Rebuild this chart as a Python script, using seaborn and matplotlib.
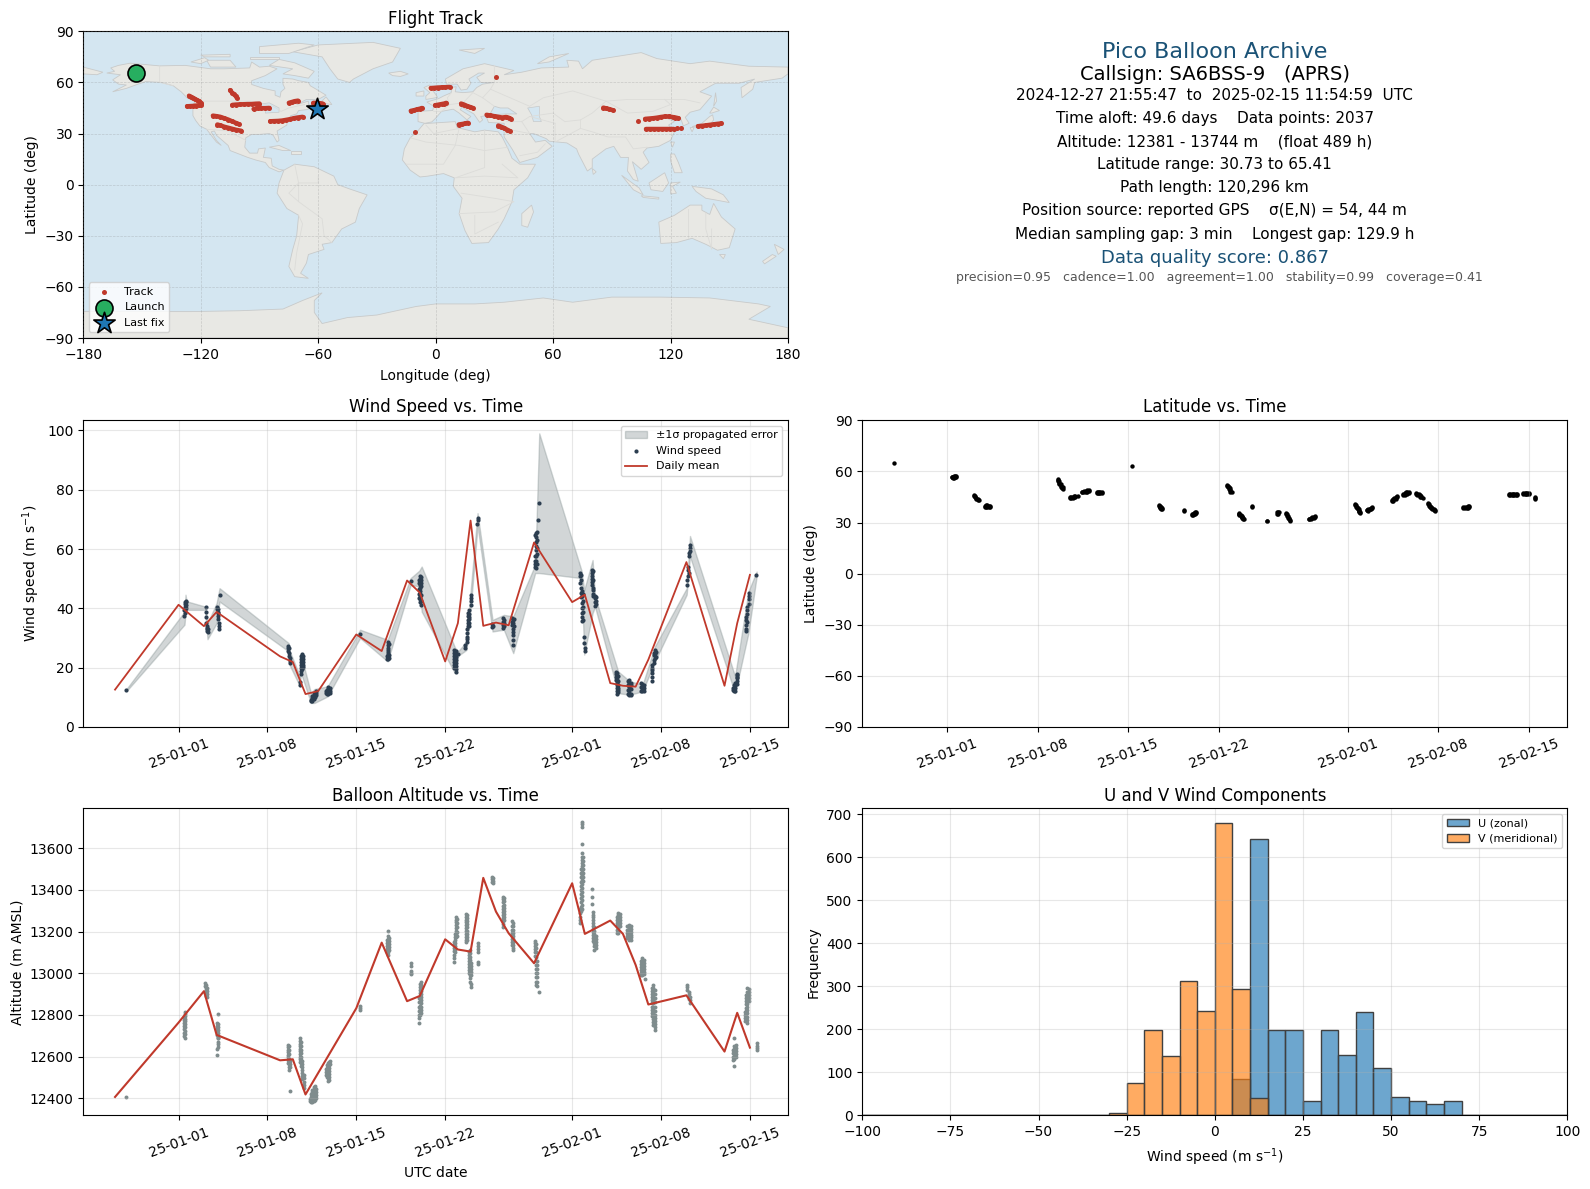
"""
plot.py - Pico balloon flight summary sheet
Values read off the reference picture by hand.
"""

import matplotlib
matplotlib.use('Agg')
import matplotlib.dates as mdates
import matplotlib.pyplot as plt
import pandas as pd
import seaborn as sns

# ─── Config ──────────────────────────────────────────────────
FIG_W, FIG_H = 1590, 1189
DAY_ZERO = pd.Timestamp('2025-01-01')

RED = '#c0392b'
NAVY = '#2c3e50'
SLATE = '#7f8c8d'
TITLE_BLUE = '#1a5276'
OCEAN = '#d4e6f1'
LAND = '#e8e8e4'
COAST = '#c8caca'

# ─── Daily means (days from 2025-01-01) ──────────────────────
wind_daily_days = [-5, 0, 2, 3, 8, 9, 10, 11, 14, 16, 18, 19, 21, 22, 23, 24, 25, 26,
                   28, 31, 32, 34, 35, 36, 37, 40, 43, 44, 45]
wind_daily_vals = [12.6, 41.2, 34.0, 38.8, 23.8, 21.9, 11.1, 12.1, 31.2, 25.6, 49.4, 45.3,
                   22.1, 35.0, 69.6, 34.1, 35.2, 34.3, 62.2, 42.1, 44.6, 14.8, 13.9, 13.6,
                   22.7, 55.6, 13.9, 35.0, 51.3]

alt_daily_days = [-5, 0, 2, 3, 8, 9, 10, 14, 16, 18, 19, 21, 22, 23, 24, 25, 26, 28,
                  31, 32, 34, 35, 36, 37, 40, 43, 44, 45]
alt_daily_vals = [12406, 12763, 12914, 12704, 12582, 12587, 12418, 12832, 13147, 12866,
                  12891, 13163, 13114, 13104, 13458, 13296, 13192, 13048, 13432, 13189,
                  13253, 13189, 13040, 12850, 12894, 12624, 12810, 12643]

# ─── Wind samples, one (day, values) entry per pass ──────────
wind_passes = [
    (-4.1, [12.5]),
    (0.47, [37.3, 39.5]), (0.53, [38.5, 39.5, 40.5, 41.5, 42.0]), (0.58, [40.0, 41.0, 42.0, 42.6]),
    (2.13, [40.4]), (2.18, [38.7]), (2.2, [37.0, 35.2]),
    (2.26, [34.0, 33.0, 32.2, 33.5]), (2.3, [33.0, 32.0]),
    (3.0, [40.6, 39.8]), (3.07, [39.8, 38.8]), (3.12, [38.4, 37.3, 36.3]), (3.17, [35.0, 34.0, 33.0]),
    (3.23, [44.4]),
    (8.65, [27.4, 26.5, 25.5]), (8.72, [26.8, 24.9, 23.8]), (8.78, [23.2, 22.2, 21.5]),
    (9.66, [24.0, 23.0, 22.0, 21.0, 20.0, 19.0, 18.0]), (9.72, [24.5, 23.5, 22.5, 21.5, 20.5, 19.5]),
    (9.8, [24.0, 23.0, 22.0, 21.0, 20.2]), (9.56, [14.3, 15.2]),
    (10.45, [8.6, 9.2]), (10.55, [8.9, 9.7, 10.4]), (10.65, [9.4, 10.2, 11.0]),
    (10.75, [10.0, 10.8, 11.6]), (10.85, [10.8, 11.6, 12.3]),
    (11.6, [11.4, 12.2]), (11.7, [11.0, 11.8, 12.6]), (11.8, [11.0, 11.9, 12.8, 13.4]), (11.9, [11.3, 12.2, 13.2]),
    (14.3, [31.3]),
    (16.42, [23.0, 24.0]), (16.5, [28.8, 27.5, 26.7, 25.9, 25.2, 24.5, 23.5, 22.9]), (16.55, [28.0, 24.2, 23.4]),
    (18.28, [49.3]),
    (18.95, [49.5, 48.4, 46.5, 45.0, 43.5]), (19.05, [51.0, 50.0, 49.0, 48.0, 47.0, 46.0, 45.0, 44.0, 43.0, 42.0]),
    (19.12, [50.5, 49.5, 48.5, 47.5, 44.5, 42.6, 41.2]),
    (21.7, [26.0, 25.0, 24.0, 23.0, 22.0, 21.0, 20.0]), (21.82, [25.5, 24.5, 23.5, 22.5, 21.5, 20.5, 19.5, 18.7]),
    (22.02, [24.5]),
    (22.55, [26.6, 27.8]), (22.68, [28.5, 29.5, 30.5, 31.8, 33.0]),
    (22.78, [35.0, 36.2, 37.3, 38.5, 34.0]), (22.9, [39.5, 38.0, 36.5, 35.0, 34.0, 37.2]), (23.0, [41.2, 42.5, 43.6, 44.6]),
    (23.5, [68.4]), (23.55, [70.4, 69.8]),
    (24.72, [34.6, 33.7]), (24.8, [34.1]),
    (25.55, [36.7, 35.5, 34.5, 33.3]), (25.65, [36.2, 35.2, 34.0]),
    (26.3, [36.7, 35.5, 34.5]), (26.36, [36.2, 35.2, 33.2, 32.0, 30.9, 29.4, 27.7]), (26.42, [36.5, 34.2]),
    (28.08, [54.1, 55.0, 55.8, 57.5, 64.8]), (28.15, [53.5, 56.0, 57.8, 59.7, 61.0, 62.5, 64.0, 65.5]),
    (28.22, [55.0, 58.2, 60.2, 63.2, 65.8]), (28.3, [69.8]), (28.4, [75.4]),
    (31.62, [51.9, 50.8, 48.5]), (31.7, [51.4, 49.5, 47.0, 45.1, 43.8]),
    (31.78, [46.0, 44.0, 41.8, 40.2, 38.4, 37.0, 35.6]), (31.85, [45.0, 42.5, 40.5, 38.9, 36.2]),
    (31.95, [30.5, 28.3]), (32.0, [25.5, 26.5]),
    (32.58, [53.0, 52.0, 51.0, 50.0, 49.0, 48.0]), (32.66, [52.5, 49.6, 47.0, 46.2, 45.0, 44.0]),
    (32.8, [44.0, 43.4, 42.2, 40.9]), (32.9, [43.8, 42.5, 41.4]),
    (34.45, [18.7, 17.9, 17.0, 16.0]), (34.55, [18.2, 17.0, 16.0, 15.0, 14.0, 13.0, 12.0, 11.2]),
    (34.65, [17.3, 15.5, 14.3, 13.2, 12.4, 11.7]),
    (35.4, [15.4, 14.0, 12.5, 11.2]), (35.5, [15.8, 14.7, 13.6, 12.5, 11.5, 10.9]), (35.62, [15.0, 14.0, 12.8, 11.2, 10.9]),
    (36.4, [14.8, 13.5, 12.2]), (36.5, [14.5, 13.2, 12.0]), (36.62, [14.2, 13.0, 12.0]),
    (37.25, [15.4, 17.0]), (37.32, [19.3, 18.2, 21.0, 20.0]), (37.42, [22.7, 24.2, 25.0, 21.6]), (37.52, [26.0, 24.6, 23.2]), (37.6, [25.2, 23.6]),
    (40.05, [47.9, 49.5]), (40.12, [51.0, 53.0, 54.0]), (40.22, [52.0, 57.5, 58.6]), (40.3, [59.5, 60.5, 61.4]),
    (43.65, [13.0, 12.4]), (43.75, [14.0, 13.0, 12.2]), (43.85, [15.0, 14.0, 13.0, 12.0]),
    (43.95, [17.6, 16.5, 15.5, 14.5]), (44.02, [17.9, 16.8]),
    (44.66, [32.2, 33.2]), (44.72, [34.5, 36.1, 37.0]), (44.8, [38.0, 39.5, 40.6, 35.5]), (44.9, [41.5, 43.0, 44.0, 45.3]),
    (45.5, [51.3]),
]

# ─── +/- 1 sigma band along the samples ──────────────────────
band_days = [-4.1, 0.47, 0.55, 0.63, 2.1, 2.28, 3.0, 3.23, 8.67, 8.77, 9.56, 9.64, 10.43, 10.7,
             11.74, 14.3, 16.47, 18.28, 18.96, 19.15, 21.76, 22.02, 22.68, 23.0, 23.55, 24.73,
             25.62, 26.36, 28.09, 28.41, 31.74, 31.95, 32.61, 32.8, 34.63, 35.55, 36.55, 37.52,
             40.02, 40.28, 43.83, 44.88, 45.53]
band_lo = [12.1, 34.5, 38.4, 39.5, 39.5, 29.6, 35.0, 42.3, 25.5, 20.7, 13.7, 18.2, 8.1, 8.1,
           10.3, 30.0, 22.1, 47.9, 47.4, 38.9, 18.2, 24.0, 26.0, 39.5, 67.8, 32.2,
           32.8, 24.9, 51.9, 51.9, 50.2, 24.4, 38.4, 40.6, 11.4, 10.9, 12.0, 22.1,
           44.6, 57.5, 11.4, 31.6, 50.7]
band_hi = [12.8, 38.9, 44.6, 42.4, 40.6, 35.0, 41.8, 46.8, 28.3, 25.5, 17.1, 24.4, 11.4, 12.8,
           13.7, 32.8, 29.4, 50.2, 52.7, 54.1, 26.9, 25.5, 28.8, 45.7, 72.1, 36.1,
           37.8, 37.3, 54.7, 99.0, 52.7, 46.2, 56.3, 44.0, 18.7, 15.4, 14.3, 27.2,
           46.8, 64.4, 17.1, 45.7, 52.4]

# ─── Altitude samples ────────────────────────────────────────
alt_passes = [
    (-4.1, [12405]),
    (0.45, [12790, 12775, 12760, 12745, 12730, 12715, 12700]),
    (0.52, [12816, 12805, 12795, 12780, 12770, 12755, 12740, 12725, 12710, 12688]),
    (2.1, [12955, 12940]),
    (2.18, [12945, 12930, 12918, 12905, 12892]), (2.26, [12930, 12915, 12902, 12888]),
    (3.07, [12803]), (3.0, [12760, 12748, 12735, 12722, 12704]), (3.08, [12755, 12742, 12728, 12712, 12700, 12688]),
    (3.14, [12700, 12688, 12672, 12660, 12648]), (3.0, [12635, 12606]),
    (8.6, [12656, 12645, 12632, 12620, 12608, 12596, 12584, 12570]),
    (8.68, [12650, 12630, 12610, 12590, 12578, 12565, 12552, 12536]),
    (8.76, [12580, 12565, 12550]), (8.76, [12434]),
    (9.58, [12688, 12675, 12662, 12650, 12638, 12625, 12612, 12600, 12588, 12575]),
    (9.66, [12670, 12650, 12630, 12615, 12600, 12585, 12570, 12555]),
    (9.76, [12580, 12565, 12550, 12535, 12520, 12505, 12490]), (9.88, [12510, 12495, 12480, 12465, 12450]),
    (10.35, [12395, 12385]), (10.45, [12420, 12408, 12396, 12384]),
    (10.55, [12440, 12428, 12416, 12404, 12392, 12384]), (10.65, [12456, 12444, 12432, 12420, 12408, 12396, 12386]),
    (10.75, [12460, 12448, 12436, 12424, 12412, 12400, 12390]), (10.85, [12445, 12430, 12415, 12402]),
    (11.6, [12540, 12525, 12510]), (11.68, [12560, 12545, 12530, 12515, 12500]),
    (11.76, [12568, 12555, 12540, 12525, 12510, 12495, 12482]),
    (11.84, [12575, 12560, 12545, 12530, 12515, 12500, 12487]), (11.92, [12580, 12565]),
    (14.28, [12843, 12832, 12825]),
    (16.4, [13160, 13145, 13130, 13115, 13100]),
    (16.48, [13205, 13178, 13165, 13152, 13140, 13128, 13115, 13102, 13088]),
    (16.56, [13170, 13155, 13140, 13125, 13110]),
    (18.3, [13048, 13035, 13010, 12995, 13003]),
    (18.97, [12880, 12860, 12840, 12820, 12800, 12785]),
    (19.05, [12950, 12935, 12920, 12905, 12890, 12875, 12860, 12845, 12830, 12815, 12800]),
    (19.13, [12960, 12945, 12930, 12915, 12900, 12885, 12870, 12855, 12840, 12825, 12810]),
    (18.97, [12760]),
    (21.66, [13150, 13135, 13120, 13105, 13090, 13075, 13056]),
    (21.76, [13190, 13175, 13160, 13145, 13130, 13115, 13100]),
    (21.86, [13272, 13258, 13244, 13230, 13216, 13202, 13188, 13174]),
    (21.94, [13260, 13240, 13220, 13200, 13180]),
    (22.64, [13285, 13272, 13258, 13244, 13230, 13216, 13202, 13188, 13174, 13160, 13152]),
    (22.74, [13280, 13265, 13250, 13235, 13220, 13205, 13190, 13175, 13160]),
    (22.84, [13104, 13090, 13075, 13060, 13045, 13030, 13015, 13000]),
    (22.92, [13110, 13095, 13080, 13065, 13050, 13035, 13020, 13005, 12990, 12975, 12960]),
    (23.0, [13050, 13035, 13020, 13005, 12990, 12950, 12936]),
    (23.55, [13144, 13130, 13118, 13104, 13056, 13045]),
    (24.66, [13464, 13452, 13440]), (24.76, [13458, 13445, 13432]),
    (25.54, [13368, 13355, 13340, 13325, 13310, 13295, 13280, 13265, 13250, 13235, 13224]),
    (25.64, [13360, 13345, 13330, 13315, 13300, 13285, 13270, 13255]),
    (26.28, [13253, 13225, 13210, 13195, 13180, 13165, 13150, 13135]),
    (26.38, [13240, 13225, 13210, 13195, 13180, 13165, 13150, 13135, 13120, 13112]),
    (28.06, [13157, 13145, 13130, 13115, 13100, 13085]),
    (28.16, [13140, 13120, 13100, 13080, 13060, 13040, 13020, 13000, 12980, 12960, 12945]),
    (28.26, [13060, 13040, 13020, 13000, 12980, 12960, 12940]),
    (28.42, [12909]),
    (31.62, [13310, 13290, 13270, 13255, 13240]),
    (31.72, [13500, 13480, 13460, 13440, 13420, 13400, 13380, 13360, 13340, 13320, 13300]),
    (31.8, [13728, 13715, 13701, 13619, 13576, 13560, 13545, 13530, 13515, 13500, 13485, 13470, 13450,
            13430, 13410, 13390, 13370, 13350, 13330, 13310]),
    (31.88, [13560, 13540, 13520, 13500, 13480, 13460, 13445]),
    (32.56, [13403, 13365, 13331]),
    (32.62, [13296, 13282, 13268, 13254, 13240, 13226, 13212, 13198, 13184, 13170, 13156]),
    (32.72, [13220, 13205, 13190, 13175, 13160, 13145, 13130, 13112]),
    (32.84, [13180, 13165, 13150, 13135, 13120]),
    (34.52, [13270, 13255, 13240, 13225, 13210, 13195]),
    (34.63, [13291, 13278, 13265, 13252, 13240, 13227, 13215, 13203, 13192]),
    (34.74, [13285, 13270, 13255, 13240, 13225]),
    (35.35, [13225, 13210, 13195, 13180, 13168]),
    (35.48, [13232, 13218, 13204, 13190, 13176, 13160]),
    (35.62, [13228, 13214, 13200, 13186, 13172, 13162]),
    (36.4, [13060, 13045, 13030, 13015, 13000, 12990]),
    (36.52, [13075, 13062, 13050, 13037, 13025, 13012, 13000, 12992]),
    (36.62, [13065, 13050, 13035, 13020, 13005, 12995]),
    (36.74, [12971]),
    (37.28, [12930, 12915, 12900, 12885, 12870, 12855, 12840, 12825, 12810, 12795]),
    (37.38, [12944, 12930, 12915, 12900, 12885, 12870, 12855, 12840, 12825, 12810, 12795, 12780, 12765, 12750]),
    (37.5, [12920, 12900, 12880, 12860, 12840, 12820, 12800, 12785, 12770, 12755, 12740, 12728]),
    (40.08, [12944, 12932, 12922]), (40.18, [12912, 12900, 12888, 12876]), (40.28, [12885, 12870, 12856]),
    (43.64, [12630, 12615, 12600, 12585]), (43.76, [12688, 12650, 12637, 12625, 12612, 12600, 12588]),
    (43.88, [12655, 12640, 12625, 12610, 12598]), (43.72, [12557]),
    (44.6, [12770, 12785, 12800, 12815]), (44.7, [12790, 12805, 12820, 12835, 12850, 12865, 12880, 12895]),
    (44.8, [12928, 12912, 12897, 12882, 12867, 12852, 12837, 12822, 12807, 12792, 12777, 12760]),
    (44.9, [12925, 12910, 12895, 12880, 12865]),
    (45.52, [12664, 12650, 12640, 12632]),
]

# ─── Latitude samples ────────────────────────────────────────
lat_passes = [
    (-4.11, [65.1]),
    (0.38, [56.6, 56.9]), (0.45, [56.4, 57.0]), (0.52, [56.2, 56.7, 57.2]), (0.6, [56.6, 57.2]), (0.66, [56.8, 57.2]),
    (2.05, [45.6, 46.0]), (2.15, [44.8, 45.4]), (2.25, [43.9, 44.6]), (2.35, [43.3, 43.9]), (2.45, [43.0]),
    (2.92, [39.4, 39.8]), (3.02, [39.2, 40.0]), (3.1, [39.2, 39.6, 40.0]), (3.2, [39.2, 39.9]), (3.28, [39.4, 39.8]),
    (8.6, [55.8, 55.0, 54.4]), (8.68, [54.2, 53.4, 52.8]), (8.78, [52.4, 51.6, 51.0]), (8.85, [51.0, 50.2]), (8.92, [50.6, 49.9]),
    (9.5, [44.4, 44.8]), (9.6, [44.3, 45.0]), (9.7, [44.6, 45.0]), (9.8, [44.8, 45.5]), (9.9, [45.2, 45.6]), (10.1, [45.6]),
    (10.4, [47.9, 48.2]), (10.55, [47.9, 48.6]), (10.7, [48.2, 48.6]), (10.82, [48.2, 48.9]), (10.95, [48.4, 48.9]),
    (11.55, [47.3, 47.7]), (11.65, [47.2, 47.8]), (11.75, [47.3, 47.7]), (11.85, [47.2, 47.8]), (11.95, [47.4, 47.8]),
    (14.3, [63.3]),
    (16.4, [40.4, 39.8]), (16.45, [39.2, 39.9]), (16.5, [39.4, 38.8]), (16.56, [38.2, 38.9]), (16.62, [38.4, 37.9]),
    (18.3, [36.8, 37.2]),
    (18.92, [34.4, 35.0]), (19.02, [34.4, 35.2]), (19.1, [34.9, 35.4]), (19.18, [35.2, 36.0]), (19.25, [35.6, 36.2]),
    (21.68, [52.2, 51.4]), (21.74, [51.6, 50.8]), (21.8, [50.6, 49.9]), (21.86, [50.0, 49.2]), (21.92, [49.0, 48.2]), (22.02, [47.8]),
    (22.55, [35.5, 34.8]), (22.62, [35.0, 34.2]), (22.7, [34.4, 33.7]), (22.78, [33.8, 33.0]), (22.85, [33.0, 32.4]),
    (22.92, [32.6, 31.9]), (23.0, [31.9]),
    (23.55, [39.2, 39.8]),
    (24.75, [30.8, 31.1]),
    (25.55, [35.2, 36.0]), (25.62, [34.8, 36.2]), (25.7, [36.4]),
    (26.22, [35.6, 34.8]), (26.3, [34.8, 34.0]), (26.38, [33.6, 32.9]), (26.46, [32.8, 32.0]), (26.55, [31.6, 30.9]),
    (28.0, [31.9, 32.2]), (28.12, [31.8, 32.6]), (28.25, [32.5, 33.0]), (28.36, [32.6, 33.4]), (28.48, [33.4, 33.7]),
    (31.6, [41.0, 40.2]), (31.66, [40.2, 39.4]), (31.72, [39.4, 38.6]), (31.78, [38.6, 37.8]), (31.85, [37.8, 37.0]),
    (31.9, [37.0, 36.2]), (31.95, [36.2, 35.4]),
    (32.5, [37.2, 37.6]), (32.6, [37.0, 37.9]), (32.7, [37.8, 38.2]), (32.8, [37.8, 38.8]), (32.9, [38.6, 39.2]),
    (34.45, [42.8, 43.4]), (34.52, [42.9, 43.8]), (34.6, [43.8, 44.2]), (34.7, [43.9, 44.9]), (34.78, [44.8, 45.4]),
    (35.3, [46.4, 46.9]), (35.4, [46.4, 47.3]), (35.5, [47.3, 47.7]), (35.6, [47.0, 48.0]), (35.72, [47.6, 48.0]),
    (36.3, [47.4, 47.0]), (36.4, [46.2, 47.0]), (36.5, [46.2, 46.6]), (36.6, [45.2, 46.2]), (36.7, [45.6, 45.0]), (36.82, [44.6]),
    (37.2, [41.2, 40.6]), (37.3, [40.6, 39.8]), (37.4, [39.8, 39.2]), (37.48, [39.2, 38.4]), (37.55, [38.6, 38.0]),
    (37.65, [38.0, 37.2]), (37.75, [37.2, 36.8]),
    (39.95, [38.5, 38.9]), (40.08, [38.4, 39.2]), (40.2, [38.8, 39.3]), (40.32, [38.8, 39.6]), (40.42, [39.4, 39.8]),
    (43.5, [46.2, 46.6]), (43.6, [45.9, 46.8]), (43.7, [46.2, 46.6]), (43.8, [45.9, 46.8]), (43.9, [46.2, 46.6]),
    (44.0, [45.9, 46.8]), (44.1, [46.2, 46.6]),
    (44.6, [46.7, 47.1]), (44.7, [46.5, 47.4]), (44.8, [46.8, 47.2]), (44.9, [46.5, 47.4]), (45.0, [46.8, 47.2]),
    (45.5, [43.9, 44.4, 44.8]),
]

# ─── U/V histogram counts (5 m/s bins) ───────────────────────
hist_edges = list(range(-100, 105, 5))
u_centers = [7.5, 12.5, 17.5, 22.5, 27.5, 32.5, 37.5, 42.5, 47.5, 52.5, 57.5, 62.5, 67.5]
u_counts = [84, 642, 198, 198, 34, 198, 140, 240, 109, 42, 33, 26, 33]
v_centers = [-27.5, -22.5, -17.5, -12.5, -7.5, -2.5, 2.5, 7.5, 12.5]
v_counts = [5, 74, 198, 137, 312, 242, 679, 293, 40]

# ─── Flight track (lon, lat), one list per pass ──────────────
track_passes = [
    [(-126, 52.2), (-125, 51.6), (-124, 51), (-123, 50.3), (-122, 49.6), (-121, 49), (-120, 48.2), (-119.7, 47.6)],
    [(-127, 46), (-125.5, 46.1), (-124, 46.2), (-122.5, 46.4), (-121, 46.6), (-119.7, 46.8)],
    [(-105, 55.4), (-104, 54), (-103, 53), (-102, 51.8), (-101.5, 50.9)],
    [(-103.9, 46.8), (-102, 47), (-100, 47.1), (-98, 47.2), (-96, 47.3), (-94, 47.3), (-92, 47.5), (-90, 47.6)],
    [(-93, 44.4), (-91, 44.8), (-89, 44.9), (-87, 44.9), (-85, 45)],
    [(-75, 48), (-73.5, 48.5), (-72, 49), (-70.3, 49.3)],
    [(-62.5, 48), (-61, 48), (-59.5, 47.8), (-57.7, 47.6)],
    [(-113.8, 40.5), (-112, 40.2), (-110, 39.8), (-108, 39), (-106, 38.2), (-104, 37.2), (-102, 36.2), (-100.5, 35.5)],
    [(-111.5, 35.3), (-110, 34.8), (-108, 34), (-106, 33.4), (-104, 32.8), (-102, 32.2), (-99.3, 31.6)],
    [(-84.5, 37.2), (-82.5, 37.3), (-80.5, 37.4), (-78.5, 37.6), (-76.5, 38), (-74.5, 38.4), (-72.5, 39), (-70.5, 39.4), (-68, 39.8)],
    [(-2.5, 56.7), (-1, 56.8), (1, 57), (3, 57.1), (5, 57.2), (7.1, 57.3)],
    [(-0.3, 46.6), (1.2, 46.9), (3, 47.3), (4.4, 47.6), (5.4, 48)],
    [(-12.7, 43.3), (-11, 43.7), (-9.5, 44.2), (-8, 44.6), (-7, 45)],
    [(-10.4, 31)],
    [(13, 47.6), (14.5, 47), (16, 46.2), (17.5, 45.6), (19, 45)],
    [(11.8, 35.3), (13.5, 35.6), (15, 35.9), (16.4, 36.3)],
    [(26, 41), (28, 40.6), (30, 40.2), (32, 39.8), (34, 39.4), (36, 39.7), (37.5, 39.2), (38.5, 38.6)],
    [(32, 34.7), (33.5, 34), (35, 33.2), (36.5, 32.3), (38, 31.4)],
    [(30.8, 63.2)],
    [(85.7, 45.2), (87, 44.8), (88.5, 44.4), (90.5, 43.7)],
    [(103.2, 37.4)],
    [(107, 38.6), (109, 38.8), (111, 39), (113, 39.3), (115, 39.7), (117, 40), (119, 40), (121, 39.7), (122.5, 39.4), (124, 39)],
    [(107.5, 32.7), (109.5, 32.7), (111.5, 32.7), (113.5, 32.7), (115.5, 32.7), (117.5, 32.7), (119.5, 32.7), (122, 32.7)],
    [(123.2, 33.3)],
    [(125.2, 33.3)],
    [(134, 34.3), (136, 34.5), (138, 34.8), (140, 35.1), (142, 35.4), (144, 35.7), (145.8, 35.9)],
]
launch_lon, launch_lat = -153.0, 65.4
last_lon, last_lat = -60.8, 44.4

# ─── Base map outlines (lon, lat), hand drawn ────────────────
land_shapes = [
    # North America
    [(-168, 65.5), (-164, 66.5), (-166, 68.5), (-162, 70), (-156, 71.3), (-141, 69.7), (-128, 70), (-115, 68),
     (-108, 68), (-95, 68.5), (-94, 72), (-90, 69), (-85, 69.5), (-81, 68), (-87, 64), (-94, 61), (-94, 58.8),
     (-88, 56.5), (-82, 55), (-82, 52.5), (-79.5, 51.3), (-79, 54.5), (-77, 56.5), (-78, 59), (-78, 62.4),
     (-73, 62), (-70, 61), (-65, 60), (-64, 58), (-61, 56), (-56, 52.5), (-60, 50), (-66, 50), (-71, 47),
     (-65, 49), (-65, 47), (-61, 46), (-66, 44), (-70, 43.5), (-71, 41.5), (-74, 40.5), (-76, 37), (-76, 35),
     (-81, 31.5), (-80, 26), (-81, 25), (-83, 29), (-85, 30), (-90, 29.5), (-94, 29.5), (-97, 27.5), (-97.5, 22),
     (-95, 18.5), (-91, 18.5), (-90.5, 21), (-87, 21.5), (-88, 16), (-84, 15.5), (-83.5, 11), (-80, 9), (-77.5, 8.5),
     (-80, 7.5), (-85, 10), (-87, 13), (-92, 14.5), (-96, 16), (-105, 20), (-106, 23), (-112, 29), (-113, 31.5),
     (-114.7, 31), (-112, 26), (-109.5, 23), (-112, 25), (-115, 29.5), (-117, 32.5), (-120.5, 34.5), (-122.5, 37.5),
     (-124, 40.5), (-124, 46), (-123, 49), (-127, 51), (-130, 54.5), (-134, 58), (-140, 60), (-148, 60.5),
     (-152, 59), (-158, 56.5), (-165, 54.5), (-158, 58.5), (-162, 59), (-165, 61.5), (-161, 64.5)],
    # Greenland and arctic islands
    [(-73, 78), (-60, 82), (-32, 83.5), (-18, 80), (-22, 72), (-32, 68), (-42, 62), (-44, 60), (-50, 62), (-54, 68), (-58, 75)],
    [(-80, 73.5), (-72, 71.5), (-62, 66.5), (-65, 62.5), (-72, 64), (-78, 65), (-73, 68), (-85, 70)],
    [(-117, 73), (-105, 73), (-102, 69), (-115, 69)],
    [(-90, 77), (-75, 77), (-62, 82), (-70, 83), (-90, 81)],
    [(-125, 72), (-118, 74.5), (-116, 73), (-120, 71)],
    [(-95, 75), (-80, 75), (-80, 74), (-95, 74)],
    [(-120, 76), (-105, 76.5), (-105, 75), (-118, 75)],
    [(-59, 48), (-56, 51.5), (-53, 47)],
    [(-85, 22), (-80, 23), (-74, 20), (-78, 20)],
    [(-74, 19.5), (-69, 19.5), (-69, 18), (-74, 18)],
    # South America
    [(-77.5, 8.5), (-72, 12), (-62, 10.5), (-52, 5), (-50, 0), (-44, -2.5), (-35, -6), (-39, -14), (-41, -22),
     (-48, -26), (-53, -34), (-58, -35), (-57, -38), (-65, -41), (-66, -46), (-69, -52), (-65, -55), (-72, -54),
     (-75, -48), (-73, -38), (-71, -30), (-70, -18), (-76, -14), (-81, -5), (-80, 1)],
    # Africa
    [(-6, 35.8), (10, 37), (11, 33.5), (20, 31), (25, 32), (32, 31), (34, 28), (37, 21), (39, 15.5), (43, 12), (51, 12),
     (47, 4), (40, -3), (39, -10), (35, -20), (32, -26), (27, -34), (18.5, -34.5), (15, -27), (12, -17), (13.5, -8),
     (9, -1), (9.5, 4), (4, 6.5), (-4, 5), (-8, 4.5), (-13, 8.5), (-17, 14.5), (-16, 21), (-13, 27.5), (-9.5, 31)],
    # Eurasia
    [(-9, 37), (-9, 43), (-1.5, 43.5), (-1, 46), (-4.5, 48.5), (1.5, 50.5), (4, 52), (8, 54), (8, 57), (10.5, 57.5),
     (10, 54.5), (14, 54), (19, 54.5), (21, 57), (24, 59), (30, 60), (23, 60), (21, 63), (25, 65.5), (22, 65.5),
     (17, 62), (18, 59.5), (16, 56), (13, 55.5), (11, 59), (5.5, 59), (5, 62), (14, 68), (25, 71), (40, 67), (35, 64.5),
     (44, 66), (54, 68.5), (68, 69), (67, 73), (73, 72.5), (75, 68), (80, 73), (105, 77.5), (113, 74), (130, 71),
     (140, 72.5), (160, 69.5), (180, 69), (180, 65), (177, 62.5), (163, 60), (162, 56), (156.5, 51), (156, 57),
     (163, 62), (155, 59.5), (143, 59.5), (135, 54.5), (141, 52), (135, 44), (130, 42.5), (127.5, 39.5), (129.5, 36),
     (126.5, 34.5), (125, 39.5), (121.5, 39), (118, 39), (122, 37), (119, 35), (122, 31), (120, 26), (114, 22.5),
     (108, 21.5), (106, 19), (109, 13), (105, 9), (100.5, 13.5), (103.5, 2), (101, 3), (98, 8), (98.5, 16), (94.5, 16),
     (91, 22.5), (87, 21), (80, 15), (80, 10), (77.5, 8), (73, 18), (72, 21), (67, 24.5), (58, 25.5), (56.5, 27),
     (50, 30), (48, 30), (51, 25), (56, 26), (59.5, 22.5), (52, 16), (43, 13), (39, 21), (35, 28), (35, 36), (27, 36.5),
     (26, 39.5), (29, 41), (36, 41.5), (41.5, 41.5), (37, 45), (33, 45), (30, 46), (28, 42), (26, 40.5), (23, 40),
     (24, 38), (22.5, 36.5), (19.5, 41.5), (13.5, 45.5), (12.5, 44), (18, 40), (16, 38), (12, 42), (9, 44.3), (3, 43),
     (0, 39), (-2, 36.8), (-5.5, 36)],
    [(-180, 69), (-170, 66), (-173, 64.5), (-180, 65)],
    # Europe and Asia islands
    [(-5, 50), (1, 51.2), (0, 53), (-2, 56), (-3, 58.5), (-6, 57), (-3, 54), (-5, 52)],
    [(-10, 52), (-6, 52), (-6, 55), (-10, 54)],
    [(-24, 65.5), (-18, 66.5), (-14, 65), (-18, 63.5), (-22, 64)],
    [(12, 79), (25, 80), (20, 77)],
    [(52, 71), (58, 75), (68, 77), (58, 72)],
    [(131, 34), (136, 36), (140, 40), (141.5, 41), (142, 38), (140, 35), (136, 33.5)],
    [(140, 42), (142, 45.5), (145, 43.5), (141, 42)],
    [(130, 33.5), (132, 33.5), (131, 31)],
    [(142, 46), (143, 54), (143.5, 49)],
    [(120, 25), (122, 25), (121, 22)],
    [(120, 18), (122, 18), (124, 13), (126, 7), (122, 7), (120, 14)],
    [(109, 1), (117, 7), (119, 1), (116, -4), (110, -3)],
    [(95, 5.5), (104, -2), (106, -6), (101, -3)],
    [(105, -6.5), (114, -7.5), (114, -8.5), (106, -7.5)],
    [(120, 1), (125, 1.5), (121, -1), (123, -5), (120, -5.5)],
    [(131, -1), (141, -2.5), (147, -6), (150, -10.5), (143, -9), (138, -8), (133, -4)],
    [(80, 9.5), (82, 7.5), (80.5, 6)],
    # Australia and around
    [(114, -22), (122, -18), (130, -12), (136, -12), (136, -15), (140, -17.5), (142, -11), (146, -19), (153, -26),
     (150, -37), (144, -38.5), (138, -35), (131, -31.5), (123, -34), (115, -34.5)],
    [(145, -41), (148, -41), (147, -43.5)],
    [(173, -35), (178, -38), (175, -41)],
    [(172, -41), (174, -42), (168, -46.5), (167, -45)],
    [(49, -12), (50, -16), (47, -25), (44, -24), (44, -17)],
    # Antarctica
    [(-180, -90), (-180, -74.5), (-125, -74.5), (-100, -74), (-78, -73), (-68, -68), (-58, -63.5), (-62, -68), (-62, -75),
     (-58, -81.5), (-45, -78), (-30, -76.5), (-10, -71.5), (0, -70), (20, -70), (35, -69), (55, -66.5), (70, -69),
     (90, -66), (115, -66), (140, -66.5), (165, -70), (171, -71.5), (160, -79), (180, -84), (180, -90)],
]
lake_shapes = [
    [(47, 45), (53, 46), (53, 40), (54, 37), (50, 37), (49, 41)],
    [(-92, 47), (-85, 48), (-80, 45), (-80, 42.5), (-87, 42), (-87, 45)],
]
border_lines = [
    [(-123, 49), (-95, 49), (-83, 46), (-79, 43), (-75, 45), (-67, 47)],
    [(-141, 69.7), (-141, 60), (-134, 58)],
    [(-117, 32.5), (-106, 31.5), (-97, 26)],
    [(-72, 12), (-70, 1), (-70, -10), (-58, -20), (-57, -30), (-53, -34)],
    [(-70, -18), (-68, -23), (-71, -40), (-72, -50)],
    [(-60, 5), (-60, 1), (-70, 1), (-75, -5), (-70, -10)],
    [(-13, 27.5), (-5, 25), (12, 23), (25, 20), (37, 22)],
    [(-5, 35), (-1, 30), (12, 33), (10, 23), (4, 12), (-15, 12)],
    [(25, 32), (25, 10), (10, 4), (25, 5), (42, 4), (34, 12)],
    [(13, -5), (30, -8), (40, -10), (30, -16), (12, -17)],
    [(20, -18), (20, -29), (32, -22)],
    [(-1, 43), (3, 43), (7, 47), (6, 51), (8, 54)],
    [(7, 47), (14, 48), (19, 54), (24, 51), (30, 46)],
    [(28, 56), (40, 50), (48, 46), (55, 51), (70, 55), (87, 49), (98, 50), (117, 50), (127, 50), (135, 48)],
    [(30, 70), (30, 60), (28, 56), (24, 51)],
    [(87, 49), (98, 42), (111, 43), (120, 47), (117, 50)],
    [(48, 40), (60, 42), (66, 37), (74, 38), (80, 42), (87, 49)],
    [(61, 36), (61, 25), (74, 33), (74, 38)],
    [(74, 33), (80, 31), (88, 28), (97, 28), (101, 21), (108, 22)],
    [(36, 37), (44, 37), (48, 30), (39, 32), (35, 29)],
    [(44, 37), (48, 40), (61, 36)],
    [(43, 17), (52, 19), (56, 24)],
    [(129, -14), (129, -31.5)],
    [(141, -26), (141, -38), (138, -26), (138, -16.5)],
]

# ─── Panel text ──────────────────────────────────────────────
summary_lines = [
    'Pico Balloon Archive',
    'Callsign: SA6BSS-9   (APRS)',
    '2024-12-27 21:55:47  to  2025-02-15 11:54:59  UTC',
    'Time aloft: 49.6 days    Data points: 2037',
    'Altitude: 12381 - 13744 m    (float 489 h)',
    'Latitude range: 30.73 to 65.41',
    'Path length: 120,296 km',
    'Position source: reported GPS    σ(E,N) = 54, 44 m',
    'Median sampling gap: 3 min    Longest gap: 129.9 h',
    'Data quality score: 0.867',
    'precision=0.95   cadence=1.00   agreement=1.00   stability=0.99   coverage=0.41',
]
summary_y_px = [51.7, 74.8, 96, 118, 141.6, 164.6, 187.7, 211, 235, 258, 278]
summary_x_px = [1214.8, 1214.8, 1214.8, 1214.8, 1214.8, 1214.8, 1214.8, 1214.8, 1214.8, 1214.8, 1219]
summary_sizes = [16, 14, 11, 11, 11, 11, 11, 11, 11, 13, 9]
summary_colors = [TITLE_BLUE, 'black', 'black', 'black', 'black', 'black', 'black', 'black', 'black',
                  TITLE_BLUE, '#555555']


def to_dates(days):
    return DAY_ZERO + pd.to_timedelta(list(days), unit='D')


def flatten(passes):
    rows = [(d, v) for d, vals in passes for v in vals]
    return pd.DataFrame({'time': to_dates(r[0] for r in rows), 'value': [r[1] for r in rows]})


def add_axes_px(fig, left, top, right, bottom):
    return fig.add_axes([left / FIG_W, 1 - bottom / FIG_H, (right - left) / FIG_W, (bottom - top) / FIG_H])


def style_time_axis(ax, start='2024-12-24 12:00', end='2025-02-18 00:00'):
    ax.set_xlim(pd.Timestamp(start), pd.Timestamp(end))
    ax.xaxis.set_major_locator(mdates.DayLocator(bymonthday=[1, 8, 15, 22]))
    ax.xaxis.set_major_formatter(mdates.DateFormatter('%y-%m-%d'))
    ax.tick_params(axis='x', rotation=20)
    ax.set_xlabel('')
    ax.grid(True, alpha=0.3)


def draw_map(ax):
    ax.set_facecolor(OCEAN)
    for shape in land_shapes:
        ax.fill([p[0] for p in shape], [p[1] for p in shape], facecolor=LAND, edgecolor=COAST, lw=0.6, zorder=1)
    for shape in lake_shapes:
        ax.fill([p[0] for p in shape], [p[1] for p in shape], facecolor=OCEAN, edgecolor=COAST, lw=0.5, zorder=1.1)
    for line in border_lines:
        ax.plot([p[0] for p in line], [p[1] for p in line], color='#dcdcd9', lw=0.6, zorder=1.2)

    # join the fixes of each pass, the real sampling is far denser than what can be read
    for one_pass in track_passes:
        ax.plot([p[0] for p in one_pass], [p[1] for p in one_pass], color=RED, lw=3.2,
                solid_capstyle='round', zorder=3)

    lons = [p[0] for one_pass in track_passes for p in one_pass]
    lats = [p[1] for one_pass in track_passes for p in one_pass]
    sns.scatterplot(x=lons, y=lats, ax=ax, s=13, color=RED, linewidth=0, label='Track', zorder=3)
    sns.scatterplot(x=[launch_lon], y=[launch_lat], ax=ax, s=150, color='#27ae60', edgecolor='black',
                    linewidth=1.2, label='Launch', zorder=4)
    sns.scatterplot(x=[last_lon], y=[last_lat], ax=ax, s=260, color='#1f77b4', marker='*', edgecolor='black',
                    linewidth=1.2, label='Last fix', zorder=5)
    ax.set_xlim(-180, 180)
    ax.set_ylim(-90, 90)
    ax.set_xticks(range(-180, 181, 60))
    ax.set_yticks(range(-90, 91, 30))
    ax.grid(True, color='gray', alpha=0.3, ls='--', lw=0.5, zorder=2)
    ax.set_axisbelow(False)
    ax.set_xlabel('Longitude (deg)', labelpad=5)
    ax.set_ylabel('Latitude (deg)')
    ax.set_title('Flight Track', pad=5)
    ax.legend(loc='lower left', fontsize=8)


def draw_wind(ax):
    samples = flatten(wind_passes)
    ax.fill_between(to_dates(band_days), band_lo, band_hi, color=SLATE, alpha=0.35,
                    label='±1σ propagated error')
    sns.scatterplot(data=samples, x='time', y='value', ax=ax, s=9, color=NAVY, linewidth=0, label='Wind speed')
    sns.lineplot(x=to_dates(wind_daily_days), y=wind_daily_vals, ax=ax, color=RED, lw=1.3, label='Daily mean',
                 errorbar=None)
    style_time_axis(ax)
    ax.set_ylim(0, 103.4)
    ax.set_ylabel('Wind speed (m s$^{-1}$)')
    ax.set_title('Wind Speed vs. Time')
    ax.legend(loc='upper right', fontsize=8)


def draw_latitude(ax):
    samples = flatten(lat_passes)
    sns.scatterplot(data=samples, x='time', y='value', ax=ax, s=10, color='black', linewidth=0)
    style_time_axis(ax, start='2024-12-25 10:00')
    ax.set_ylim(-90, 90)
    ax.set_yticks(range(-90, 91, 30))
    ax.set_ylabel('Latitude (deg)')
    ax.set_title('Latitude vs. Time')


def draw_altitude(ax):
    samples = flatten(alt_passes)
    sns.scatterplot(data=samples, x='time', y='value', ax=ax, s=8, color=SLATE, linewidth=0)
    sns.lineplot(x=to_dates(alt_daily_days), y=alt_daily_vals, ax=ax, color=RED, lw=1.5, errorbar=None)
    style_time_axis(ax)
    ax.set_ylim(12318, 13792)
    ax.set_xlabel('UTC date', labelpad=5)
    ax.set_ylabel('Altitude (m AMSL)')
    ax.set_title('Balloon Altitude vs. Time', pad=5)


def draw_hist(ax):
    sns.histplot(x=u_centers, weights=u_counts, bins=hist_edges, ax=ax, color='tab:blue', alpha=0.65,
                 edgecolor='#404040', linewidth=1, label='U (zonal)')
    sns.histplot(x=v_centers, weights=v_counts, bins=hist_edges, ax=ax, color='tab:orange', alpha=0.65,
                 edgecolor='#404040', linewidth=1, label='V (meridional)')
    ax.set_xlim(-100, 100)
    ax.set_ylim(0, 714)
    ax.set_xlabel('Wind speed (m s$^{-1}$)', labelpad=5)
    ax.set_ylabel('Frequency')
    ax.set_title('U and V Wind Components', pad=5)
    ax.grid(True, alpha=0.3)
    ax.legend(loc='upper right', fontsize=8)


def draw_summary(fig):
    for text, x_px, y_px, size, color in zip(summary_lines, summary_x_px, summary_y_px, summary_sizes, summary_colors):
        fig.text(x_px / FIG_W, 1 - y_px / FIG_H, text, ha='center', va='center', fontsize=size, color=color)


if __name__ == '__main__':
    fig = plt.figure(figsize=(FIG_W / 100, FIG_H / 100), dpi=100)

    draw_map(add_axes_px(fig, 83.3, 31.3, 788, 338))
    draw_wind(add_axes_px(fig, 83.3, 420.3, 788, 727))
    draw_latitude(add_axes_px(fig, 862.3, 420.3, 1567.3, 727))
    draw_altitude(add_axes_px(fig, 83.3, 808.3, 788, 1115.3))
    draw_hist(add_axes_px(fig, 862.3, 808.3, 1567.3, 1115.3))
    draw_summary(fig)

    fig.savefig('out.png', dpi=100)
    plt.close(fig)
